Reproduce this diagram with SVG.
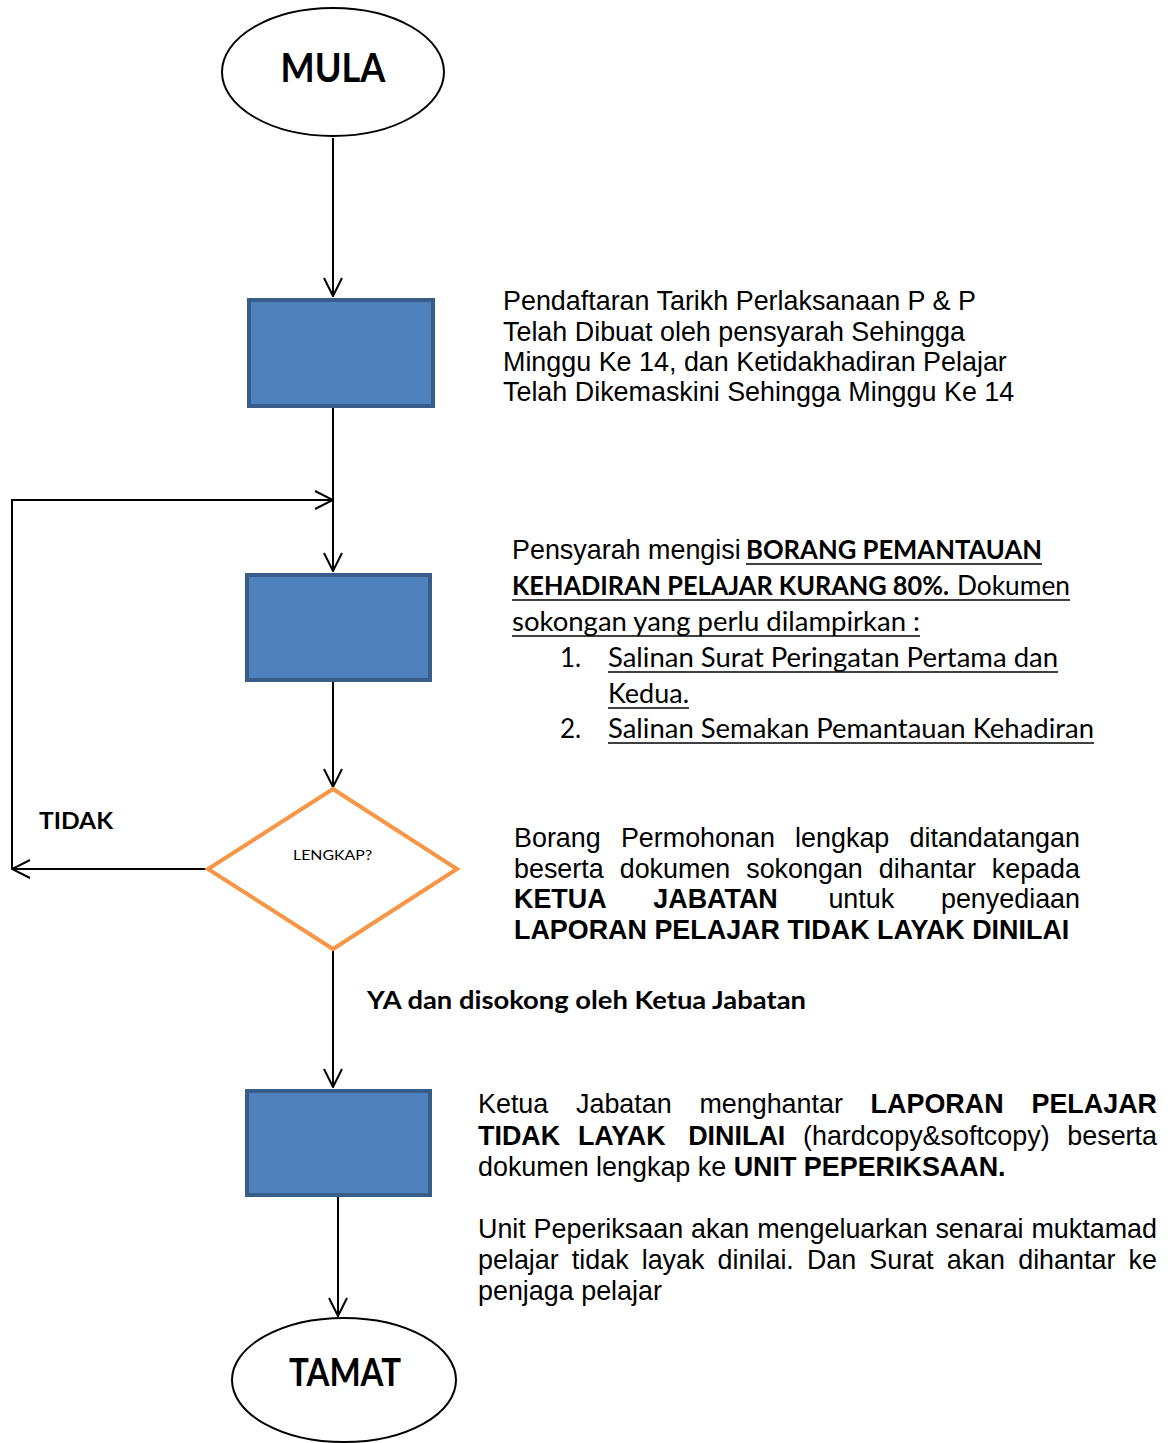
<svg xmlns="http://www.w3.org/2000/svg" width="1176" height="1443" viewBox="0 0 1176 1443">
<style>
.proc{fill:#4F81BD;stroke:#385D8A;stroke-width:4}
.term{fill:#fff;stroke:#000;stroke-width:2}
.dec{fill:#fff;stroke:#F79646;stroke-width:4}
.conn{fill:none;stroke:#000;stroke-width:2}
.ar{font-family:"Liberation Sans",Arial,sans-serif;font-size:26.9px;fill:#000}
.arb{font-family:"Liberation Sans",Arial,sans-serif;font-size:26.9px;font-weight:bold;fill:#000}
.cal{font-family:Lato,"Open Sans",sans-serif;font-size:26px;fill:#000}
.calb{font-family:Lato,"Open Sans",sans-serif;font-size:26px;font-weight:bold;fill:#000}
.ul{stroke:#000;stroke-width:1.6}
</style>
<defs>
<marker id="arr" viewBox="0 0 20 20" refX="19" refY="10" markerWidth="20" markerHeight="20" markerUnits="userSpaceOnUse" orient="auto">
<path d="M1,1 L19,10 L1,19" fill="none" stroke="#000" stroke-width="2"/>
</marker>
</defs>
<g id="connectors">
<path class="conn" d="M333,138 V296" marker-end="url(#arr)"/>
<path class="conn" d="M333,408 V571" marker-end="url(#arr)"/>
<path class="conn" d="M333,682 V787" marker-end="url(#arr)"/>
<path class="conn" d="M208,869 H12" marker-end="url(#arr)"/>
<path class="conn" d="M12,869 V500 H333" marker-end="url(#arr)"/>
<path class="conn" d="M333,949 V1087" marker-end="url(#arr)"/>
<path class="conn" d="M338,1197 V1316" marker-end="url(#arr)"/>
</g>
<g id="mula">
<ellipse class="term" cx="333" cy="72" rx="111" ry="64"/>
<text class="calb" x="333" y="82" text-anchor="middle" style="font-size:40px" textLength="105" lengthAdjust="spacingAndGlyphs">MULA</text>
</g>
<g id="box1"><rect class="proc" x="249" y="300" width="184" height="106"/></g>
<g id="box2"><rect class="proc" x="247" y="575" width="183" height="105"/></g>
<g id="decision">
<polygon class="dec" points="333,789 457,869 333,949 208,869"/>
<text class="cal" x="293" y="860" style="font-size:14px" textLength="79" lengthAdjust="spacingAndGlyphs">LENGKAP?</text>
</g>
<g id="box3"><rect class="proc" x="247" y="1091" width="183" height="104"/></g>
<g id="tamat">
<ellipse class="term" cx="344" cy="1380" rx="112" ry="62"/>
<text class="calb" x="289" y="1386" style="font-size:39px" textLength="112" lengthAdjust="spacingAndGlyphs">TAMAT</text>
</g>
<g id="label-tidak">
<text class="calb" x="39" y="829" style="font-size:23px" textLength="74" lengthAdjust="spacingAndGlyphs">TIDAK</text>
</g>
<g id="label-ya">
<text class="calb" x="367" y="1009" style="font-size:25px" textLength="439" lengthAdjust="spacingAndGlyphs">YA dan disokong oleh Ketua Jabatan</text>
</g>
<g id="note1">
<text class="ar" x="503" y="310">Pendaftaran Tarikh Perlaksanaan P &amp; P</text>
<text class="ar" x="503" y="341">Telah Dibuat oleh pensyarah Sehingga</text>
<text class="ar" x="503" y="371">Minggu Ke 14, dan Ketidakhadiran Pelajar</text>
<text class="ar" x="503" y="401">Telah Dikemaskini Sehingga Minggu Ke 14</text>
</g>
<g id="note2">
<text class="ar" x="512" y="559">Pensyarah mengisi</text>
<text class="calb" x="746" y="559" textLength="296" lengthAdjust="spacingAndGlyphs">BORANG PEMANTAUAN</text>
<line class="ul" x1="746" y1="564" x2="1042" y2="564"/>
<text class="calb" x="512" y="595" textLength="437" lengthAdjust="spacingAndGlyphs">KEHADIRAN PELAJAR KURANG 80%.</text>
<text class="cal" x="957" y="595" textLength="113" lengthAdjust="spacingAndGlyphs">Dokumen</text>
<line class="ul" x1="512" y1="600" x2="1070" y2="600"/>
<text class="cal" x="512" y="631" textLength="408" lengthAdjust="spacingAndGlyphs">sokongan yang perlu dilampirkan :</text>
<line class="ul" x1="512" y1="636" x2="920" y2="636"/>
<text class="cal" x="560" y="667">1.</text>
<text class="cal" x="608" y="667" textLength="450" lengthAdjust="spacingAndGlyphs">Salinan Surat Peringatan Pertama dan</text>
<line class="ul" x1="608" y1="672" x2="1058" y2="672"/>
<text class="cal" x="608" y="703" textLength="81" lengthAdjust="spacingAndGlyphs">Kedua.</text>
<line class="ul" x1="608" y1="708" x2="689" y2="708"/>
<text class="cal" x="560" y="738">2.</text>
<text class="cal" x="608" y="738" textLength="486" lengthAdjust="spacingAndGlyphs">Salinan Semakan Pemantauan Kehadiran</text>
<line class="ul" x1="608" y1="743" x2="1094" y2="743"/>
</g>
<g id="note3">
<text class="ar" x="514" y="847">Borang</text>
<text class="ar" x="620.9" y="847">Permohonan</text>
<text class="ar" x="795.1" y="847">lengkap</text>
<text class="ar" x="1080" y="847" text-anchor="end">ditandatangan</text>
<text class="ar" x="514" y="878">beserta</text>
<text class="ar" x="619.7" y="878">dokumen</text>
<text class="ar" x="746.2" y="878">sokongan</text>
<text class="ar" x="878.8" y="878">dihantar</text>
<text class="ar" x="1080" y="878" text-anchor="end">kepada</text>
<text class="arb" x="514" y="908">KETUA</text>
<text class="arb" x="653.3" y="908">JABATAN</text>
<text class="ar" x="828.4" y="908">untuk</text>
<text class="ar" x="1080" y="908" text-anchor="end">penyediaan</text>
<text class="arb" x="514" y="939">LAPORAN PELAJAR TIDAK LAYAK DINILAI</text>
</g>
<g id="note4">
<text class="ar" x="478" y="1113">Ketua</text>
<text class="ar" x="576" y="1113">Jabatan</text>
<text class="ar" x="699.4" y="1113">menghantar</text>
<text class="arb" x="870.6" y="1113">LAPORAN</text>
<text class="arb" x="1157" y="1113" text-anchor="end">PELAJAR</text>
<text class="arb" x="478" y="1145">TIDAK</text>
<text class="arb" x="577.9" y="1145">LAYAK</text>
<text class="arb" x="688.2" y="1145">DINILAI</text>
<text class="ar" x="803" y="1145">(hardcopy&amp;softcopy)</text>
<text class="ar" x="1157" y="1145" text-anchor="end">beserta</text>
<text class="ar" x="478" y="1176">dokumen lengkap ke <tspan class="arb">UNIT PEPERIKSAAN.</tspan></text>
<text class="ar" x="478" y="1238">Unit</text>
<text class="ar" x="533.6" y="1238">Peperiksaan</text>
<text class="ar" x="691" y="1238">akan</text>
<text class="ar" x="757.2" y="1238">mengeluarkan</text>
<text class="ar" x="935.4" y="1238">senarai</text>
<text class="ar" x="1157" y="1238" text-anchor="end">muktamad</text>
<text class="ar" x="478" y="1269">pelajar</text>
<text class="ar" x="571.8" y="1269">tidak</text>
<text class="ar" x="641.7" y="1269">layak</text>
<text class="ar" x="717.6" y="1269">dinilai.</text>
<text class="ar" x="806.9" y="1269">Dan</text>
<text class="ar" x="869.3" y="1269">Surat</text>
<text class="ar" x="946.7" y="1269">akan</text>
<text class="ar" x="1018.2" y="1269">dihantar</text>
<text class="ar" x="1157" y="1269" text-anchor="end">ke</text>
<text class="ar" x="478" y="1300">penjaga pelajar</text>
</g>
</svg>
